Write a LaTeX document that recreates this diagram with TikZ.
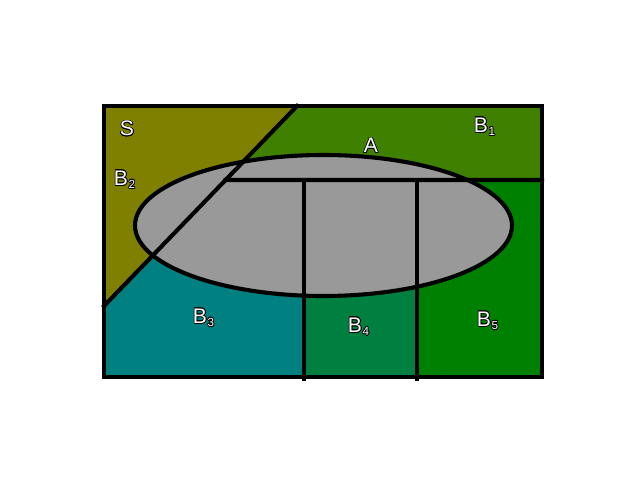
\documentclass[tikz,border=0pt]{standalone}
\usepackage{fontspec}
\setmainfont{Liberation Sans}
\usepackage{contour}
\contourlength{0.6pt}
\usetikzlibrary{calc}
\definecolor{partolive}{HTML}{808000}
\definecolor{partleaf}{HTML}{408000}
\definecolor{partteal}{HTML}{008080}
\definecolor{partsea}{HTML}{008040}
\definecolor{partgreen}{HTML}{008000}
\definecolor{partgray}{HTML}{999999}
\newcommand{\setlbl}[2]{\contour{black}{#1\rlap{\hspace{0.6pt}\raisebox{-2.6pt}{\fontsize{10}{10}\selectfont #2}}}}
\tikzset{
  part/.style={line width=3.5pt, line cap=rect},
  lbl/.style={text=white, inner sep=0pt, font=\fontsize{18}{18}\selectfont}
}
\begin{document}
\begin{tikzpicture}[x=0.03cm, y=-0.03cm]
  \useasboundingbox (0,0) rectangle (640,480);
  % frame and cutting lines
  \coordinate (tl) at (104,106);
  \coordinate (tr) at (542,106);
  \coordinate (br) at (542,377);
  \coordinate (bl) at (104,377);
  \coordinate (dt) at (297,106);
  \coordinate (db) at (104,306);
  \coordinate (hl) at ($(dt)!0.37!(db)$);
  \coordinate (hr) at (542,180);
  \coordinate (vat) at (304,180);
  \coordinate (vab) at (304,379);
  \coordinate (vbt) at (417,180);
  \coordinate (vbb) at (417,379);
  % the parts B1..B5
  \fill[partolive] (tl) -- (dt) -- (db) -- cycle;
  \fill[partleaf]  (dt) -- (tr) -- (hr) -- (hl) -- cycle;
  \fill[partteal]  (db) -- (hl) -- (vat) -- (304,377) -- (bl) -- cycle;
  \fill[partsea]   (vat) rectangle (417,377);
  \fill[partgreen] (vbt) rectangle (br);
  % the event A
  \filldraw[part, fill=partgray] (323.5,225.5) ellipse [x radius=188.5, y radius=70.5];
  \draw[part] (dt) -- (db);
  \draw[part] (hl) -- (hr);
  \draw[part] (vat) -- (vab);
  \draw[part] (vbt) -- (vbb);
  \draw[part] (tl) rectangle (br);
  % labels
  \node[lbl] (s)  at (127,129) {\contour{black}{S}};
  \node[lbl] (a)  at (371,146) {\contour{black}{A}};
  \node[lbl] (b1) at (481,127) {\setlbl{B}{1}};
  \node[lbl] (b2) at (121,180) {\setlbl{B}{2}};
  \node[lbl] (b3) at (200,318) {\setlbl{B}{3}};
  \node[lbl] (b4) at (355,327) {\setlbl{B}{4}};
  \node[lbl] (b5) at (484,321) {\setlbl{B}{5}};
\end{tikzpicture}
\end{document}
